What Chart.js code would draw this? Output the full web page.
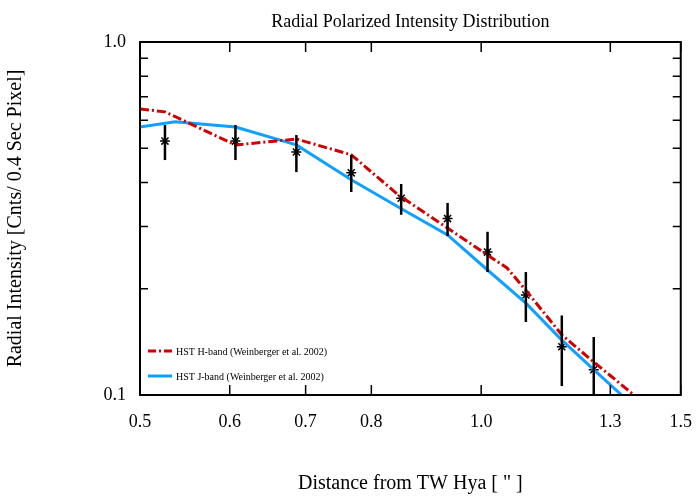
<!DOCTYPE html><html><head><script src="https://cdn.jsdelivr.net/npm/chart.js@4"></script>
<style>body{margin:0;background:#fff}</style></head><body><canvas id="c" width="700" height="500" style="width:700px;height:500px"></canvas>
<script>
const obsX=[0.526,0.607,0.687,0.768,0.850,0.934,1.013,1.095,1.178,1.257];
const obsY=[0.524,0.524,0.488,0.426,0.361,0.316,0.254,0.192,0.137,0.118];
const obsHi=[0.582,0.582,0.545,0.479,0.396,0.350,0.290,0.223,0.168,0.146];
const obsLo=[0.463,0.463,0.428,0.376,0.324,0.282,0.223,0.161,0.106,0.099];
const hX=[0.5,0.526,0.607,0.687,0.768,0.845,0.934,1.013,1.054,1.095,1.178,1.257,1.364];
const hY=[0.646,0.634,0.511,0.531,0.479,0.369,0.297,0.249,0.229,0.198,0.148,0.124,0.1];
const jX=[0.5,0.537,0.607,0.687,0.768,0.845,0.934,1.013,1.095,1.178,1.257,1.33];
const jY=[0.574,0.594,0.574,0.511,0.407,0.341,0.284,0.226,0.182,0.143,0.118,0.1];
const xTicks=[0.5,0.6,0.7,0.8,1.0,1.3,1.5];
const yMinor=[0.2,0.3,0.4,0.5,0.6,0.7,0.8,0.9];
const F='"Liberation Serif", serif';
const pts=(xs,ys)=>xs.map((x,i)=>({x:x,y:ys[i]}));
const deco={id:'deco',afterDraw(ch){const c=ch.ctx,a=ch.chartArea,xs=ch.scales.x,ys=ch.scales.y;
c.save();c.strokeStyle='#000';
c.lineWidth=2.5;obsX.forEach((x,i)=>{const px=xs.getPixelForValue(x);c.beginPath();c.moveTo(px,ys.getPixelForValue(obsHi[i]));c.lineTo(px,Math.min(a.bottom,ys.getPixelForValue(obsLo[i])));c.stroke();});
c.lineWidth=2;c.strokeRect(a.left,a.top,a.right-a.left,a.bottom-a.top);
c.lineWidth=1.5;
[0.1,1.0].forEach(v=>{const p=ys.getPixelForValue(v);c.beginPath();c.moveTo(a.left,p);c.lineTo(a.left+16,p);c.moveTo(a.right,p);c.lineTo(a.right-16,p);c.stroke();});
yMinor.forEach(v=>{const p=ys.getPixelForValue(v);c.beginPath();c.moveTo(a.left,p);c.lineTo(a.left+8,p);c.moveTo(a.right,p);c.lineTo(a.right-8,p);c.stroke();});
xTicks.forEach(v=>{const p=xs.getPixelForValue(v);c.beginPath();c.moveTo(p,a.bottom);c.lineTo(p,a.bottom-10);c.moveTo(p,a.top);c.lineTo(p,a.top+10);c.stroke();});
c.fillStyle='#000';c.font='18px '+F;c.textAlign='center';c.fillText('Radial Polarized Intensity Distribution',(a.left+a.right)/2,27);
c.textAlign='left';c.font='10px '+F;
c.lineWidth=3;c.strokeStyle='#d00000';c.setLineDash([8,3,2,3]);c.beginPath();c.moveTo(148,351);c.lineTo(172,351);c.stroke();
c.setLineDash([]);c.strokeStyle='#10a0ff';c.beginPath();c.moveTo(148,376);c.lineTo(172,376);c.stroke();
c.fillText('HST H-band (Weinberger et al. 2002)',176,355);c.fillText('HST J-band (Weinberger et al. 2002)',176,380);
c.restore();}};
new Chart(document.getElementById('c'),{type:'scatter',data:{datasets:[
{data:pts(hX,hY),showLine:true,borderColor:'#d00000',borderWidth:3,borderDash:[9,3,2,3],pointRadius:0},
{data:pts(jX,jY),showLine:true,borderColor:'#10a0ff',borderWidth:3,pointRadius:0},
{data:pts(obsX,obsY),pointStyle:'star',pointRadius:5,borderColor:'#000',borderWidth:1.5,backgroundColor:'#000'}]},
options:{responsive:false,animation:false,devicePixelRatio:1,layout:{padding:{top:42,right:15}},
plugins:{legend:{display:false},tooltip:{enabled:false}},
scales:{x:{type:'logarithmic',min:0.5,max:1.5,grid:{display:false},border:{display:false},
afterBuildTicks:s=>{s.ticks=xTicks.map(v=>({value:v}));},afterFit:s=>{s.height=105;},
ticks:{color:'#000',font:{family:F,size:18},padding:8,maxRotation:0,autoSkip:false,callback:v=>Number(v).toFixed(1)},
title:{display:true,text:'Distance from TW Hya [ " ]',color:'#000',font:{family:F,size:20},padding:{top:6}}},
y:{type:'logarithmic',min:0.1,max:1.0,grid:{display:false},border:{display:false},
afterBuildTicks:s=>{s.ticks=[{value:0.1},{value:1.0}];},afterFit:s=>{s.width=140;},
ticks:{color:'#000',font:{family:F,size:18},padding:6,callback:v=>Number(v).toFixed(1)},
title:{display:true,text:'Radial Intensity [Cnts/ 0.4 Sec Pixel]',color:'#000',font:{family:F,size:20},padding:{bottom:12}}}}},
plugins:[deco]});
</script></body></html>
